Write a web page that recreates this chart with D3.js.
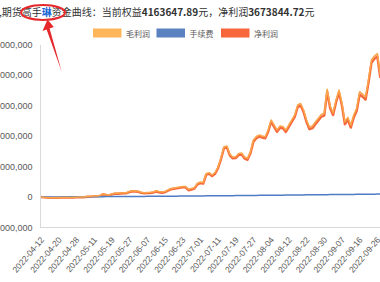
<!DOCTYPE html>
<html lang="zh">
<head>
  <meta charset="UTF-8">
  <title>资金曲线</title>
  <script src="https://d3js.org/d3.v7.min.js"></script>
  <style>
    body { margin: 0; padding: 0; background: #fff; overflow: hidden; }
    svg { display: block; font-family: 'Liberation Sans', 'Noto Sans CJK SC', sans-serif; }
  </style>
</head>
<body>
  <svg id="chart" width="380" height="282"></svg>

  <script>
    // trading days 2022-04-12 .. 2022-09-27
    const dates = [
      "2022-04-12","2022-04-13","2022-04-14","2022-04-15","2022-04-18","2022-04-19","2022-04-20","2022-04-21","2022-04-22","2022-04-25",
      "2022-04-26","2022-04-27","2022-04-28","2022-04-29","2022-05-05","2022-05-06","2022-05-09","2022-05-10","2022-05-11","2022-05-12",
      "2022-05-13","2022-05-16","2022-05-17","2022-05-18","2022-05-19","2022-05-20","2022-05-23","2022-05-24","2022-05-25","2022-05-26",
      "2022-05-27","2022-05-30","2022-05-31","2022-06-01","2022-06-02","2022-06-06","2022-06-07","2022-06-08","2022-06-09","2022-06-10",
      "2022-06-13","2022-06-14","2022-06-15","2022-06-16","2022-06-17","2022-06-20","2022-06-21","2022-06-22","2022-06-23","2022-06-24",
      "2022-06-27","2022-06-28","2022-06-29","2022-06-30","2022-07-01","2022-07-04","2022-07-05","2022-07-06","2022-07-07","2022-07-08",
      "2022-07-11","2022-07-12","2022-07-13","2022-07-14","2022-07-15","2022-07-18","2022-07-19","2022-07-20","2022-07-21","2022-07-22",
      "2022-07-25","2022-07-26","2022-07-27","2022-07-28","2022-07-29","2022-08-01","2022-08-02","2022-08-03","2022-08-04","2022-08-05",
      "2022-08-08","2022-08-09","2022-08-10","2022-08-11","2022-08-12","2022-08-15","2022-08-16","2022-08-17","2022-08-18","2022-08-19",
      "2022-08-22","2022-08-23","2022-08-24","2022-08-25","2022-08-26","2022-08-29","2022-08-30","2022-08-31","2022-09-01","2022-09-02",
      "2022-09-05","2022-09-06","2022-09-07","2022-09-08","2022-09-09","2022-09-13","2022-09-14","2022-09-15","2022-09-16","2022-09-19",
      "2022-09-20","2022-09-21","2022-09-22","2022-09-23","2022-09-26","2022-09-27"
    ];

    const dateLabels = [
      "2022-04-12","2022-04-20","2022-04-28","2022-05-11","2022-05-19","2022-05-27","2022-06-07","2022-06-15","2022-06-23","2022-07-01",
      "2022-07-11","2022-07-19","2022-07-27","2022-08-04","2022-08-12","2022-08-22","2022-08-30","2022-09-07","2022-09-16","2022-09-26"
    ];

    // 毛利润 (thousands)
    const grossProfit = [
      0,-10,-16,-26,-26,-20,-23,-16,-13,-10,
      -13,-10,-7,-3,0,7,16,23,33,33,
      49,98,82,56,98,121,121,131,141,141,
      180,207,197,190,154,141,148,154,164,203,
      180,164,180,230,279,295,311,328,344,344,
      252,279,305,449,492,475,770,797,721,803,
      984,1279,1639,1672,1410,1311,1321,1426,1443,1311,
      1268,1486,1869,1984,2033,2000,1977,2197,2525,2361,
      2197,2328,2312,2197,2361,2525,2689,3016,3066,2852,
      2525,2295,2328,2459,2580,2705,2744,3531,2984,2764,
      3180,3508,3082,2469,2613,2361,2689,2908,3452,3377,
      3279,3836,4492,4623,4705,4000
    ];

    // 手续费 (thousands)
    const fees = [
      0,1,1,1,2,3,4,4,4,5,
      6,6,6,7,8,9,9,9,10,11,
      12,12,13,13,14,14,15,16,17,17,
      17,18,19,19,19,20,21,22,22,23,
      24,24,25,26,27,27,28,29,30,30,
      31,32,32,33,35,35,37,37,38,40,
      40,42,43,44,45,45,47,48,48,49,
      50,51,53,53,54,55,55,57,58,59,
      60,60,61,62,63,64,66,67,68,68,
      70,71,71,72,73,74,75,77,78,78,
      80,81,82,84,84,85,86,87,89,89,
      90,91,93,94,95,96
    ];

    // 净利润 (thousands)
    const netProfit = [
      0,-11,-17,-27,-28,-23,-27,-20,-17,-15,
      -19,-16,-13,-10,-8,-2,7,14,23,22,
      37,86,69,43,84,107,106,115,124,124,
      163,189,178,171,135,121,127,132,142,180,
      156,140,155,204,252,268,283,299,314,314,
      221,247,273,416,457,440,733,760,683,763,
      944,1237,1596,1628,1365,1266,1274,1378,1395,1262,
      1218,1435,1816,1931,1979,1945,1922,2140,2467,2302,
      2137,2268,2251,2135,2298,2461,2623,2949,2998,2784,
      2455,2224,2257,2387,2507,2631,2669,3454,2906,2686,
      3100,3427,3000,2385,2529,2276,2603,2821,3363,3288,
      3189,3745,4399,4529,4610,3904
    ];

    const yTicks = [-1000000, 0, 1000000, 2000000, 3000000, 4000000, 5000000];
    const seriesNames = ["毛利润", "手续费", "净利润"];
    const legendColors = ["#ffb55a", "#5a82c0", "#f8673c"];
    const lineColors = ["#fba44a", "#4f7cc4", "#f6693c"];

    const svg = d3.select("#chart");

    const x = d3.scalePoint().domain(dates).range([41, 380.3]);
    const y = d3.scaleLinear().domain([-1000000, 5000000]).range([227.5, 44.5]);

    // y axis
    const yAxis = svg.append("g")
      .attr("transform", "translate(40,0)")
      .call(d3.axisLeft(y).tickValues(yTicks).tickSize(0).tickPadding(7.5).tickFormat(d3.format(",")));
    yAxis.select(".domain").attr("stroke", "#d9d9d9").attr("stroke-width", 1);
    yAxis.selectAll("text").attr("fill", "#595959").style("font-size", "9px")
      .style("font-family", "'Liberation Sans', sans-serif");

    // x axis
    const xAxis = svg.append("g")
      .attr("transform", "translate(0,227.5)")
      .call(d3.axisBottom(x).tickValues(dateLabels).tickSize(0).tickPadding(0));
    xAxis.select(".domain").attr("stroke", "#d9d9d9").attr("stroke-width", 1)
      .attr("d", "M40,0H380");
    xAxis.selectAll("text")
      .attr("fill", "#595959")
      .style("font-size", "8.5px")
      .style("font-family", "'Liberation Sans', sans-serif")
      .attr("text-anchor", "end")
      .attr("dy", "0")
      .attr("y", 0)
      .attr("transform", "translate(3,12.5) rotate(-50)");

    // lines
    const line = d3.line()
      .x((d, i) => x(dates[i]))
      .y(d => y(d * 1000));

    const plot = svg.append("g").attr("fill", "none").attr("stroke-linejoin", "round");
    plot.append("path").datum(netProfit).attr("d", line)
      .attr("stroke", lineColors[2]).attr("stroke-width", 2.4);
    plot.append("path").datum(fees).attr("d", line)
      .attr("stroke", lineColors[1]).attr("stroke-width", 1.5);
    plot.append("path").datum(grossProfit).attr("d", line)
      .attr("stroke", lineColors[0]).attr("stroke-width", 1.5);

    // legend
    const legend = svg.append("g").attr("transform", "translate(93,28.5)");
    const legendX = [0, 63.5, 128];
    seriesNames.forEach((name, i) => {
      const g = legend.append("g").attr("transform", `translate(${legendX[i]},0)`);
      g.append("rect").attr("width", 28.5).attr("height", 9).attr("fill", legendColors[i]);
      g.append("text").attr("x", 33).attr("y", 8)
        .attr("fill", "#595959").style("font-size", "8px")
        .style("font-family", "'Noto Sans CJK SC', sans-serif")
        .text(name);
    });

    // title
    const title = svg.append("text")
      .attr("x", -1).attr("y", 16)
      .attr("fill", "#333")
      .style("font-size", "10px")
      .style("font-family", "'Noto Sans CJK SC', 'Liberation Sans', sans-serif");
    title.append("tspan").text(",期货高手");
    title.append("tspan").attr("fill", "#1565d8").attr("font-weight", "bold").text("琳");
    title.append("tspan").text("资金曲线：当前权益");
    title.append("tspan").attr("font-weight", "bold").text("4163647.89");
    title.append("tspan").text("元，净利润");
    title.append("tspan").attr("font-weight", "bold").text("3673844.72");
    title.append("tspan").text("元");

    // red annotation
    svg.append("ellipse")
      .attr("cx", 43).attr("cy", 12.5).attr("rx", 22).attr("ry", 7.5)
      .attr("fill", "none").attr("stroke", "#e5282b").attr("stroke-width", 2);
    svg.append("polygon")
      .attr("points", "47.5,19.5 42.5,31 46.6,29.6 61.8,72 49.6,28.6 53.8,27")
      .attr("fill", "#e5282b");
  </script>
</body>
</html>
